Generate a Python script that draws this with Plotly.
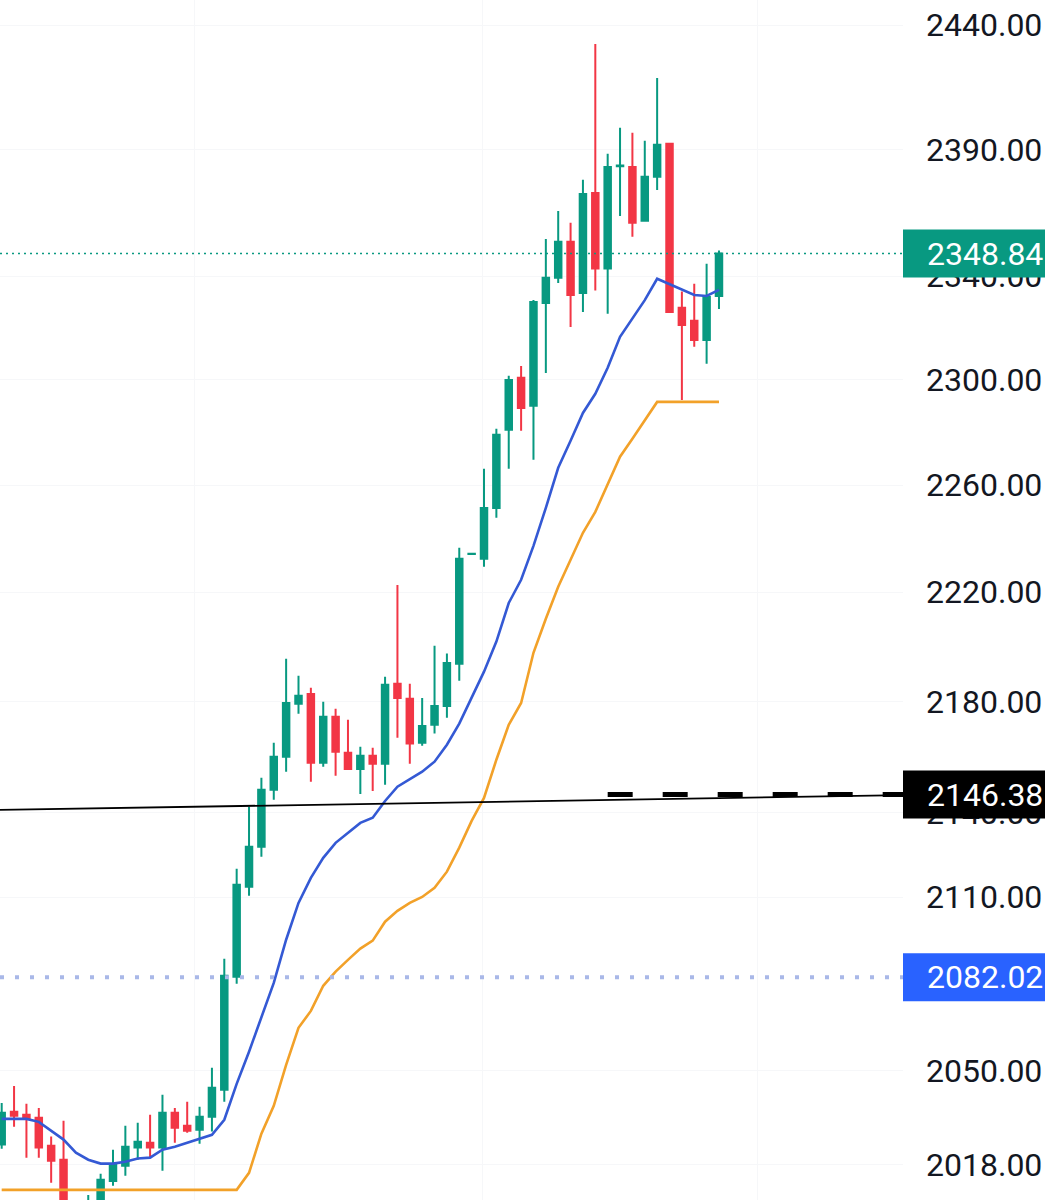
import math
import plotly.graph_objects as go

# ---------------- data ----------------
candle_index = list(range(59))

opens = [2024.8, 2035.9, 2034.9, 2033.9, 2024.4, 2019.7, 2001.0, 1999.0, 2004.0, 2012.6,
         2017.7, 2023.8, 2025.4, 2023.8, 2035.6, 2031.2, 2029.8, 2034.2, 2043.4, 2082.2,
         2113.7, 2127.8, 2148.1, 2160.0, 2179.1, 2182.7, 2157.8, 2174.4, 2161.4, 2155.6,
         2160.3, 2157.4, 2186.4, 2180.9, 2165.0, 2171.5, 2178.3, 2193.7, 2234.2, 2232.4,
         2251.4, 2280.9, 2300.7, 2290.0, 2329.6, 2339.4, 2353.5, 2333.5, 2372.7, 2343.0,
         2383.3, 2383.0, 2361.7, 2379.1, 2392.2, 2327.7, 2322.7, 2315.3, 2332.3]

highs = [2038.9, 2044.7, 2038.6, 2037.2, 2027.5, 2032.9, 2004.5, 2007.9, 2015.0, 2023.1,
         2031.2, 2032.2, 2034.9, 2041.7, 2037.2, 2039.3, 2037.6, 2050.9, 2088.5, 2120.0,
         2142.0, 2152.4, 2165.0, 2195.5, 2189.3, 2184.9, 2179.8, 2177.3, 2173.3, 2163.6,
         2163.2, 2188.9, 2222.7, 2186.4, 2181.2, 2200.3, 2197.4, 2236.5, 2234.4, 2266.1,
         2281.3, 2301.5, 2305.3, 2330.7, 2354.6, 2365.6, 2360.9, 2377.9, 2432.3, 2388.2,
         2398.6, 2396.6, 2393.4, 2418.6, 2392.4, 2334.0, 2337.1, 2344.9, 2350.0]

lows = [2023.4, 2030.8, 2020.4, 2020.4, 2012.0, 1997.9, 1994.0, 1996.0, 2001.0, 2011.0,
        2014.3, 2019.7, 2020.4, 2016.0, 2025.4, 2028.8, 2025.1, 2029.2, 2039.3, 2079.8,
        2110.5, 2124.3, 2144.5, 2154.6, 2175.5, 2151.0, 2156.4, 2153.1, 2155.3, 2146.6,
        2147.7, 2149.9, 2166.8, 2157.4, 2163.9, 2168.3, 2174.0, 2187.5, 2234.1, 2229.4,
        2247.7, 2266.1, 2280.5, 2269.5, 2302.6, 2337.4, 2320.3, 2326.1, 2334.4, 2325.4,
        2363.6, 2355.4, 2361.4, 2373.9, 2325.7, 2292.2, 2312.7, 2306.1, 2327.3]

closes = [2035.6, 2034.6, 2033.5, 2023.8, 2019.4, 2001.3, 1997.0, 2005.5, 2013.0, 2018.0,
          2024.1, 2025.8, 2023.8, 2035.6, 2030.5, 2029.5, 2034.2, 2044.1, 2082.6, 2114.4,
          2127.8, 2148.1, 2160.0, 2179.4, 2182.0, 2157.8, 2174.4, 2161.8, 2155.6, 2160.3,
          2157.4, 2186.0, 2181.2, 2164.7, 2171.1, 2178.3, 2194.0, 2232.4, 2234.3, 2251.4,
          2279.0, 2299.9, 2289.2, 2330.0, 2339.4, 2353.5, 2332.7, 2372.3, 2343.0, 2383.0,
          2383.6, 2360.9, 2379.1, 2391.8, 2326.1, 2321.1, 2315.3, 2331.9, 2348.84]

blue_ma = [2033.5, 2033.5, 2033.5, 2032.5, 2029.5, 2026.5, 2022.1, 2019.7, 2018.4, 2018.4,
           2019.0, 2020.1, 2020.4, 2023.1, 2024.1, 2025.4, 2026.8, 2028.1, 2033.2, 2045.4,
           2056.4, 2068.0, 2080.1, 2095.1, 2108.0, 2116.8, 2123.9, 2129.2, 2132.8, 2136.3,
           2138.1, 2144.1, 2149.2, 2152.0, 2154.6, 2158.2, 2164.3, 2171.9, 2181.2, 2190.8,
           2201.8, 2216.0, 2224.6, 2237.2, 2251.4, 2266.5, 2276.7, 2287.3, 2294.6, 2304.6,
           2316.5, 2323.8, 2330.7, 2339.0, 2337.0, 2334.7, 2332.7, 2332.3, 2334.7]

orange_line = [2009.6, 2009.6, 2009.6, 2009.6, 2009.6, 2009.6, 2009.6, 2009.6, 2009.6, 2009.6,
               2009.6, 2009.6, 2009.6, 2009.6, 2009.6, 2009.6, 2009.6, 2009.6, 2009.6, 2009.6,
               2015.3, 2028.5, 2037.9, 2051.9, 2064.6, 2070.4, 2079.1, 2084.0, 2088.1, 2092.0,
               2094.8, 2101.4, 2105.2, 2108.0, 2110.1, 2113.3, 2119.0, 2127.5, 2137.0, 2145.2,
               2158.9, 2171.5, 2179.4, 2197.7, 2210.2, 2222.0, 2232.0, 2242.1, 2249.9, 2260.1,
               2270.7, 2277.5, 2284.3, 2291.5, 2291.5, 2291.5, 2291.5, 2291.5, 2291.5]

tick_values = [2018, 2050, 2110, 2140, 2180, 2220, 2260, 2300, 2340, 2390, 2440]
tick_labels = ["2018.00", "2050.00", "2110.00", "2140.00", "2180.00", "2220.00",
               "2260.00", "2300.00", "2340.00", "2390.00", "2440.00"]

last_price = 2348.84
black_level = 2146.38
blue_level = 2082.02
trend_x = [-0.14, 72.9]
trend_y = [2140.9, 2146.2]
black_dash_start = 49.0

x_range = [-0.137, 72.88]
y_range = [2006.2, 2450.2]
grid_x = [15.6, 38.9, 61.1]

GREEN = "#089981"
RED = "#f23645"
BLUE_LINE = "#3459d4"
ORANGE = "#f2a129"
FONT = "Roboto"

# ---------------- figure ----------------
fig = go.Figure()

fig.add_trace(go.Candlestick(
    x=candle_index, open=opens, high=highs, low=lows, close=closes,
    increasing=dict(line=dict(color=GREEN, width=2), fillcolor=GREEN),
    decreasing=dict(line=dict(color=RED, width=2), fillcolor=RED),
    whiskerwidth=0, showlegend=False, hoverinfo="skip"))

fig.add_trace(go.Scatter(x=candle_index, y=orange_line, mode="lines",
                         line=dict(color=ORANGE, width=2.6), hoverinfo="skip", showlegend=False))
fig.add_trace(go.Scatter(x=candle_index, y=blue_ma, mode="lines",
                         line=dict(color=BLUE_LINE, width=2.6), hoverinfo="skip", showlegend=False))

# horizontal reference lines
fig.add_trace(go.Scatter(x=x_range, y=[last_price, last_price], mode="lines",
                         line=dict(color=GREEN, width=1.5, dash="2px,4px"),
                         hoverinfo="skip", showlegend=False))
fig.add_trace(go.Scatter(x=x_range, y=[blue_level, blue_level], mode="lines",
                         line=dict(color="#a9b8e8", width=4, dash="4px,11px"),
                         hoverinfo="skip", showlegend=False))
fig.add_trace(go.Scatter(x=trend_x, y=trend_y, mode="lines",
                         line=dict(color="#000000", width=1.8),
                         hoverinfo="skip", showlegend=False))
fig.add_trace(go.Scatter(x=[black_dash_start, x_range[1]], y=[black_level, black_level], mode="lines",
                         line=dict(color="#000000", width=5, dash="25px,30px"),
                         hoverinfo="skip", showlegend=False))

# price label boxes on the right axis
lo, hi = math.log10(y_range[0]), math.log10(y_range[1])
def paper_y(p):
    return (math.log10(p) - lo) / (hi - lo)

shapes = []
annotations = []
for price, color, txt in [(last_price, GREEN, "2348.84"),
                          (black_level, "#000000", "2146.38"),
                          (blue_level, "#2962ff", "2082.02")]:
    py = paper_y(price)
    shapes.append(dict(type="rect", xref="paper", yref="paper", x0=1.0, x1=1.3,
                       y0=py - 24 / 1200, y1=py + 24 / 1200, fillcolor=color,
                       line=dict(width=0), layer="above"))
    annotations.append(dict(xref="paper", yref="paper", x=1.0, y=py, xanchor="left",
                            yanchor="middle", xshift=22, text=txt, showarrow=False,
                            font=dict(family=FONT, size=32, color="#ffffff")))

fig.update_layout(
    width=1045, height=1200,
    margin=dict(l=0, r=142, t=0, b=0),
    paper_bgcolor="#ffffff", plot_bgcolor="#ffffff",
    showlegend=False, hovermode=False, boxgap=0.25,
    shapes=shapes, annotations=annotations,
    xaxis=dict(range=x_range, showticklabels=False, tickvals=grid_x, showgrid=True,
               gridcolor="#f6f7f9", zeroline=False, showline=False, ticks="",
               rangeslider=dict(visible=False), fixedrange=True),
    yaxis=dict(type="log", range=[lo, hi], side="right", tickvals=tick_values,
               ticktext=tick_labels, tickfont=dict(family=FONT, size=32, color="#131722"),
               showgrid=True, gridcolor="#f6f7f9", zeroline=False, showline=False,
               ticks="", ticklabelstandoff=22, fixedrange=True),
)

fig.write_html("out.html")
